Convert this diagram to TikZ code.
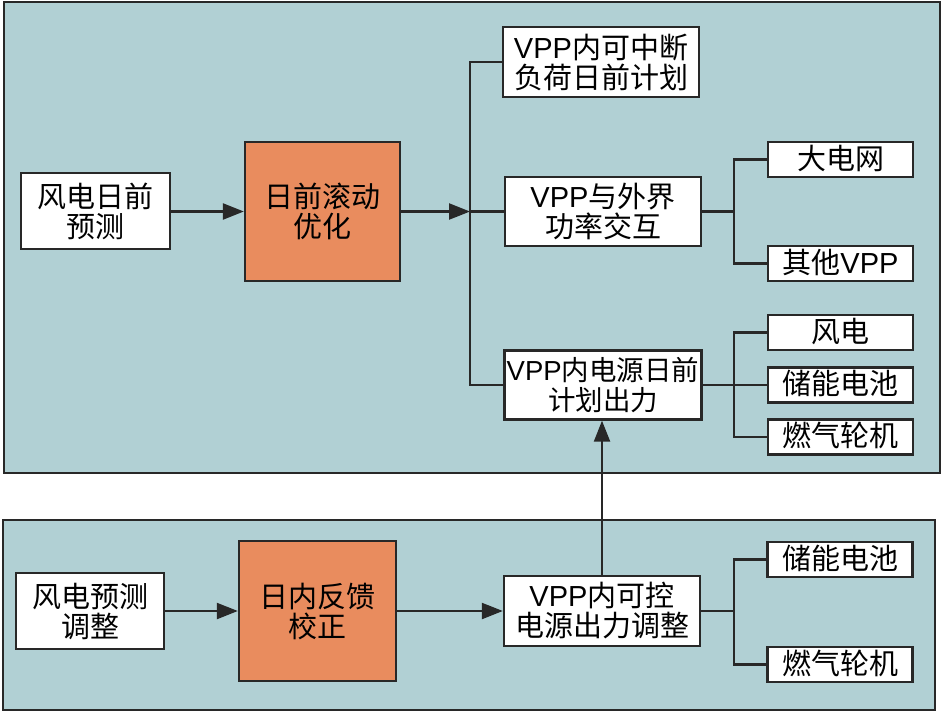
\documentclass[tikz,border=0pt]{standalone}
\usepackage{fontspec}
\setmainfont{Liberation Sans}
\newfontfamily\cjk{Noto Sans CJK SC}
\usetikzlibrary{arrows.meta}
\newcommand\zh[1]{{\cjk #1}}
\definecolor{panelc}{RGB}{177,208,212}
\definecolor{orangec}{RGB}{233,140,94}
\definecolor{edgec}{RGB}{40,40,40}
\begin{document}
\begin{tikzpicture}[x=1pt,y=-1pt,
  panel/.style={draw=edgec, fill=panelc, line width=2.4pt},
  wbox/.style={draw=edgec, fill=white, line width=2.4pt, inner sep=0pt, align=center,
    font=\fontsize{29pt}{30pt}\selectfont},
  sbox/.style={wbox, minimum width=145pt, minimum height=35pt, text height=23pt, text depth=4pt},
  obox/.style={wbox, fill=orangec},
  conn/.style={draw=edgec, line width=2.4pt},
  arr/.style={conn, -{Triangle[length=21pt,width=16pt]}}]
\fill[white] (0,0) rectangle (945,716);
\useasboundingbox (0,0) rectangle (945,716);
% panels
\draw[panel] (4,2) rectangle (940,473);
\draw[panel] (3,520) rectangle (935,710);
% top panel nodes
\node[wbox, minimum width=149pt, minimum height=76pt] (a) at (95.5,211) {\zh{风电日前}\\\zh{预测}};
\node[obox, minimum width=155pt, minimum height=139pt] (b) at (322.5,211.5) {\zh{日前滚动}\\\zh{优化}};
\node[wbox, minimum width=196pt, minimum height=70pt] (c1) at (601,62) {VPP\zh{内可中断}\\\zh{负荷日前计划}};
\node[wbox, minimum width=196pt, minimum height=69pt] (c2) at (603,211.5) {VPP\zh{与外界}\\\zh{功率交互}};
\node[wbox, minimum width=197pt, minimum height=69pt, font=\fontsize{27.5pt}{30pt}\selectfont] (c3) at (603,385) {VPP\zh{内电源日前}\\\zh{计划出力}};
\node[sbox] (g1) at (840.5,159.5) {\zh{大电网}};
\node[sbox] (g2) at (840.5,263.5) {\zh{其他}VPP};
\node[sbox] (p1) at (840.5,332.5) {\zh{风电}};
\node[sbox] (p2) at (840.5,385) {\zh{储能电池}};
\node[sbox] (p3) at (840.5,437) {\zh{燃气轮机}};
% bottom panel nodes
\node[wbox, minimum width=148pt, minimum height=76pt] (d) at (90,611) {\zh{风电预测}\\\zh{调整}};
\node[obox, minimum width=157pt, minimum height=140pt] (e) at (317.5,611) {\zh{日内反馈}\\\zh{校正}};
\node[wbox, minimum width=196pt, minimum height=70pt] (f) at (602,611) {VPP\zh{内可控}\\\zh{电源出力调整}};
\node[sbox] (q1) at (840,559.5) {\zh{储能电池}};
\node[sbox] (q2) at (840,664.5) {\zh{燃气轮机}};
% junctions
\coordinate (j1) at (470,211.5);
\coordinate (k1) at (734,211.5);
\coordinate (k2) at (734,385);
\coordinate (k3) at (734,611);
% connectors top
\draw[arr] (a.east |- b) -- (b.west);
\draw[arr] (b.east) -- (j1);
\draw[conn] (j1) -- (c2.west);
\draw[conn] (c1.west) -| (j1) |- (c3.west);
\draw[conn] (c2.east) -- (k1);
\draw[conn] (g1.west) -| (k1) |- (g2.west);
\draw[conn] (c3.east) -- (p2.west);
\draw[conn] (p1.west) -| (k2) |- (p3.west);
% connectors bottom
\draw[arr] (d.east) -- (e.west);
\draw[arr] (e.east) -- (f.west);
\draw[conn] (f.east) -- (k3);
\draw[conn] (q1.west) -| (k3) |- (q2.west);
\draw[arr] (f.north) -- (f.north |- c3.south);
\end{tikzpicture}
\end{document}
